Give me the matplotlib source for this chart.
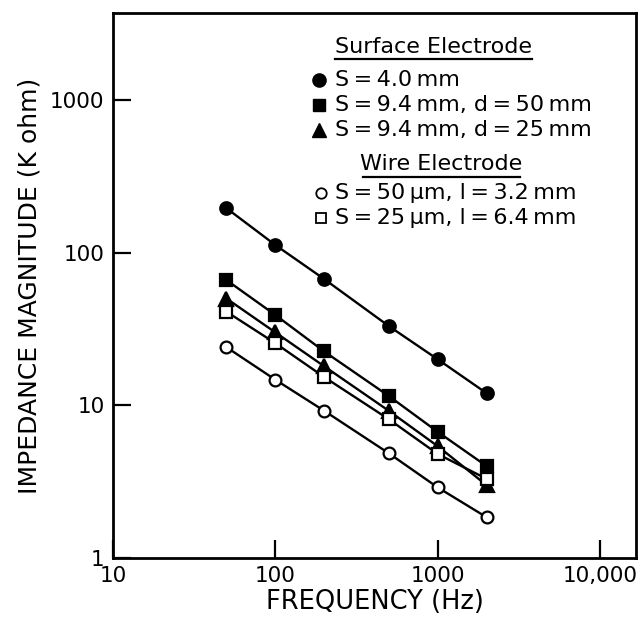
#!/usr/bin/env python3
"""Impedance magnitude vs frequency for surface and wire electrodes (log-log)."""

from __future__ import annotations

import matplotlib

matplotlib.use("Agg")
import matplotlib.pyplot as plt

# frequencies (Hz) shared by every series
frequency_hz = [50, 100, 200, 500, 1000, 2000]

# impedance magnitude (K ohm)
surface_s40 = [195, 112, 67, 33, 20, 12]
surface_s94_d50 = [66, 39, 22.5, 11.5, 6.7, 4.0]
surface_s94_d25 = [50, 30, 18, 9.2, 5.4, 3.0]
wire_s50 = [24, 14.7, 9.2, 4.85, 2.9, 1.85]
wire_s25 = [41, 25.5, 15.3, 8.1, 4.8, 3.3]

TS = "\u2009"  # thin space, the original lettering is tightly set
surface_labels = [
    f"S{TS}={TS}4.0{TS}mm",
    f"S{TS}={TS}9.4{TS}mm, d{TS}={TS}50{TS}mm",
    f"S{TS}={TS}9.4{TS}mm, d{TS}={TS}25{TS}mm",
]
wire_labels = [
    f"S{TS}={TS}50{TS}\u00b5m, l{TS}={TS}3.2{TS}mm",
    f"S{TS}={TS}25{TS}\u00b5m, l{TS}={TS}6.4{TS}mm",
]

x_ticks = [10, 100, 1000, 10000]
x_tick_labels = ["10", "100", "1000", "10,000"]
y_ticks = [1, 10, 100, 1000]
y_tick_labels = ["1", "10", "100", "1000"]


def main() -> None:
    plt.rcParams["font.family"] = ["DejaVu Sans"]

    fig = plt.figure(figsize=(6.42, 6.18), dpi=100)
    ax = fig.add_axes([0.176, 0.097, 0.815, 0.882])

    line_kw = dict(color="black", linewidth=1.7, markeredgecolor="black", markeredgewidth=1.6)
    ax.plot(frequency_hz, surface_s40, marker="o", markersize=9, markerfacecolor="black", **line_kw)
    ax.plot(frequency_hz, surface_s94_d50, marker="s", markersize=8.5, markerfacecolor="black", **line_kw)
    ax.plot(frequency_hz, surface_s94_d25, marker="^", markersize=9.5, markerfacecolor="black", **line_kw)
    ax.plot(frequency_hz, wire_s25, marker="s", markersize=8.5, markerfacecolor="white", **line_kw)
    ax.plot(frequency_hz, wire_s50, marker="o", markersize=8.5, markerfacecolor="white", **line_kw)

    ax.set_xscale("log")
    ax.set_yscale("log")
    ax.set_xlim(10, 16700)
    ax.set_ylim(1, 3700)

    ax.set_xticks(x_ticks)
    ax.set_xticklabels(x_tick_labels)
    ax.set_yticks(y_ticks)
    ax.set_yticklabels(y_tick_labels)
    ax.minorticks_off()
    ax.tick_params(direction="in", length=13, width=1.6, labelsize=15.5, pad=6, colors="black")

    for spine in ax.spines.values():
        spine.set_linewidth(2.0)

    ax.set_xlabel("FREQUENCY (Hz)", fontsize=18.5, labelpad=2)
    ax.set_ylabel("IMPEDANCE MAGNITUDE (K ohm)", fontsize=18, labelpad=6)

    # hand-built legend with underlined group headings
    text_kw = dict(transform=ax.transAxes, fontsize=16, va="center")
    ax.text(0.613, 0.937, "Surface Electrode", ha="center", **text_kw)
    ax.plot([0.4245, 0.801], [0.9156, 0.9156], transform=ax.transAxes, color="black", linewidth=1.6)

    surface_markers = [("o", "black", 9.5), ("s", "black", 8), ("^", "black", 9.5)]
    surface_rows = [0.877, 0.831, 0.785]
    for (marker, face, size), label, y in zip(surface_markers, surface_labels, surface_rows):
        ax.plot([0.394], [y], transform=ax.transAxes, marker=marker, markersize=size,
                markerfacecolor=face, markeredgecolor="black", linestyle="none")
        ax.text(0.4245, y, label, ha="left", **text_kw)

    ax.text(0.628, 0.723, "Wire Electrode", ha="center", **text_kw)
    ax.plot([0.478, 0.778], [0.699, 0.699], transform=ax.transAxes, color="black", linewidth=1.6)

    wire_markers = [("o", "white", 7.5), ("s", "white", 7.5)]
    wire_rows = [0.670, 0.624]
    for (marker, face, size), label, y in zip(wire_markers, wire_labels, wire_rows):
        ax.plot([0.398], [y], transform=ax.transAxes, marker=marker, markersize=size,
                markerfacecolor=face, markeredgecolor="black", markeredgewidth=1.3, linestyle="none")
        ax.text(0.4245, y, label, ha="left", **text_kw)

    fig.savefig("out.png", dpi=100)
    plt.close(fig)


if __name__ == "__main__":
    main()
